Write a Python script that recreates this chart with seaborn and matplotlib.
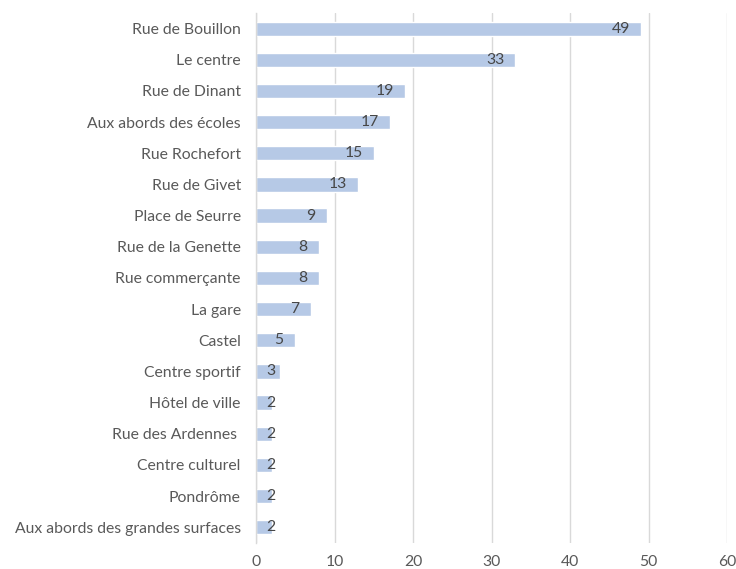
import matplotlib
matplotlib.use("Agg")
import matplotlib.pyplot as plt
import seaborn as sns
import pandas as pd

# Places mentioned, with number of mentions
places = [
    "Rue de Bouillon", "Le centre", "Rue de Dinant", "Aux abords des écoles",
    "Rue Rochefort", "Rue de Givet", "Place de Seurre", "Rue de la Genette",
    "Rue commerçante", "La gare", "Castel", "Centre sportif", "Hôtel de ville",
    "Rue des Ardennes ", "Centre culturel", "Pondrôme",
    "Aux abords des grandes surfaces",
]
counts = [49, 33, 19, 17, 15, 13, 9, 8, 8, 7, 5, 3, 2, 2, 2, 2, 2]
x_ticks = [0, 10, 20, 30, 40, 50, 60]

df = pd.DataFrame({"place": places, "count": counts})

sns.set_theme(style="white")
plt.rcParams["font.family"] = ["Lato", "DejaVu Sans"]

fig = plt.figure(figsize=(7.36, 5.69), dpi=100)
ax = fig.add_axes([0.348, 0.046, 0.640, 0.931])

bar_color = "#B6C9E6"
sns.barplot(data=df, x="count", y="place", orient="h", color=bar_color,
            saturation=1, width=0.46, ax=ax)

ax.set_xlim(0, 60)
ax.set_ylim(len(places) - 0.5, -0.5)
ax.set_xticks(x_ticks)
ax.set_xlabel("")
ax.set_ylabel("")
ax.grid(axis="x", color="#D9D9D9", linewidth=1)
ax.set_axisbelow(True)
for side in ["top", "right", "bottom"]:
    ax.spines[side].set_visible(False)
ax.spines["left"].set_color("#D9D9D9")
ax.spines["left"].set_linewidth(1)
ax.tick_params(axis="y", length=0, pad=11, labelsize=11.3, labelcolor="#595959")
ax.tick_params(axis="x", length=0, pad=9, labelsize=11.3, labelcolor="#595959")

# Value labels just inside the end of each bar
fig.canvas.draw()
px_per_unit = ax.transData.transform((1, 0))[0] - ax.transData.transform((0, 0))[0]
for i, v in enumerate(counts):
    s = str(v)
    half_w = 3.5 * len(s)
    if v * px_per_unit - 13 - 2 * half_w >= 12:
        ax.annotate(s, xy=(v, i), xytext=(-13 - half_w, 0), textcoords="offset pixels",
                    ha="center", va="center", fontsize=11.3, color="#474747")
    else:
        ax.annotate(s, xy=(0, i), xytext=(15, 0), textcoords="offset pixels",
                    ha="center", va="center", fontsize=11.3, color="#474747")

fig.savefig("out.png", dpi=100)
